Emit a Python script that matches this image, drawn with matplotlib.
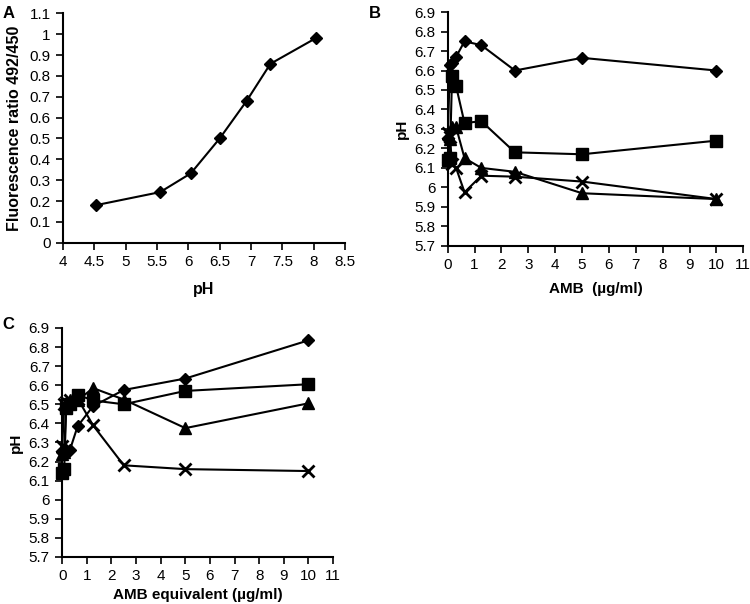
import matplotlib
matplotlib.use("Agg")
import matplotlib.pyplot as plt

plt.rcParams["font.family"] = ["Liberation Sans", "DejaVu Sans"]

# Panel A: calibration curve
a_ph = [4.52, 5.55, 6.04, 6.5, 6.93, 7.31, 8.03]
a_ratio = [0.18, 0.243, 0.333, 0.50, 0.68, 0.858, 0.98]

# AMB concentrations (ug/ml)
conc = [0, 0.08, 0.16, 0.31, 0.625, 1.25, 2.5, 5, 10]

# Panel B series
b_diamond = [6.25, 6.63, 6.64, 6.67, 6.75, 6.73, 6.60, 6.665, 6.60]
b_square = [6.14, 6.15, 6.57, 6.52, 6.33, 6.34, 6.18, 6.17, 6.24]
b_triangle = [6.16, 6.25, 6.31, 6.31, 6.15, 6.10, 6.08, 5.97, 5.94]
b_cross = [6.28, 6.26, 6.12, 6.10, 5.975, 6.06, 6.055, 6.03, 5.94]

# Panel C series
c_diamond = [6.25, 6.26, 6.26, 6.26, 6.385, 6.49, 6.575, 6.635, 6.835]
c_square = [6.14, 6.16, 6.48, 6.50, 6.55, 6.52, 6.50, 6.57, 6.605]
c_triangle = [6.24, 6.25, 6.50, 6.52, 6.52, 6.585, 6.525, 6.375, 6.505]
c_cross = [6.28, 6.50, 6.51, 6.52, 6.53, 6.39, 6.18, 6.16, 6.15]

markers = [("D", 6), ("s", 8), ("^", 8), ("x", 8)]

fig = plt.figure(figsize=(7.5, 6.04), dpi=100)
ax_a = fig.add_axes([0.084, 0.598, 0.376, 0.38])
ax_b = fig.add_axes([0.597, 0.593, 0.394, 0.387])
ax_c = fig.add_axes([0.083, 0.078, 0.361, 0.379])


def style(ax):
    for side in ("top", "right"):
        ax.spines[side].set_visible(False)
    for side in ("left", "bottom"):
        ax.spines[side].set_linewidth(1.5)
    ax.tick_params(direction="out", length=5, width=1.2, labelsize=11,
                   colors="black", pad=4)


ax_a.plot(a_ph, a_ratio, color="black", lw=1.5, marker="D", ms=6.5)
ax_a.set_xlim(4, 8.5)
ax_a.set_ylim(0, 1.1)
ax_a.set_xticks([4, 4.5, 5, 5.5, 6, 6.5, 7, 7.5, 8, 8.5])
ax_a.set_xticklabels(["4", "4.5", "5", "5.5", "6", "6.5", "7", "7.5", "8", "8.5"])
yt = [i / 10 for i in range(12)]
ax_a.set_yticks(yt)
ax_a.set_yticklabels(["0", "0.1", "0.2", "0.3", "0.4", "0.5", "0.6", "0.7", "0.8",
                      "0.9", "1", "1.1"])
ax_a.set_xlabel("pH", fontsize=11.5, fontweight="bold", labelpad=9)
ax_a.set_ylabel("Fluorescence ratio 492/450", fontsize=11.5, fontweight="bold", labelpad=5)
style(ax_a)

ph_ticks = [5.7 + i / 10 for i in range(13)]
ph_labels = ["5.7", "5.8", "5.9", "6", "6.1", "6.2", "6.3", "6.4", "6.5", "6.6",
             "6.7", "6.8", "6.9"]

for ax, series, xlabel, pad in [
    (ax_b, [b_diamond, b_square, b_triangle, b_cross], "AMB  (µg/ml)", 7),
    (ax_c, [c_diamond, c_square, c_triangle, c_cross], "AMB equivalent (µg/ml)", 3),
]:
    for ys, (m, ms) in zip(series, markers):
        ax.plot(conc, ys, color="black", lw=1.5, marker=m, ms=ms, mew=2 if m == "x" else 1,
                clip_on=False)
    ax.set_xlim(0, 11)
    ax.set_ylim(5.7, 6.9)
    ax.set_xticks(range(12))
    ax.set_yticks(ph_ticks)
    ax.set_yticklabels(ph_labels)
    ax.set_xlabel(xlabel, fontsize=11, fontweight="bold", labelpad=pad)
    ax.set_ylabel("pH", fontsize=11, fontweight="bold", labelpad=4)
    style(ax)

fig.text(0.003, 0.978, "A", fontsize=12, fontweight="bold", va="center")
fig.text(0.492, 0.978, "B", fontsize=12, fontweight="bold", va="center")
fig.text(0.003, 0.462, "C", fontsize=12, fontweight="bold", va="center")

fig.savefig("out.png", dpi=100)
